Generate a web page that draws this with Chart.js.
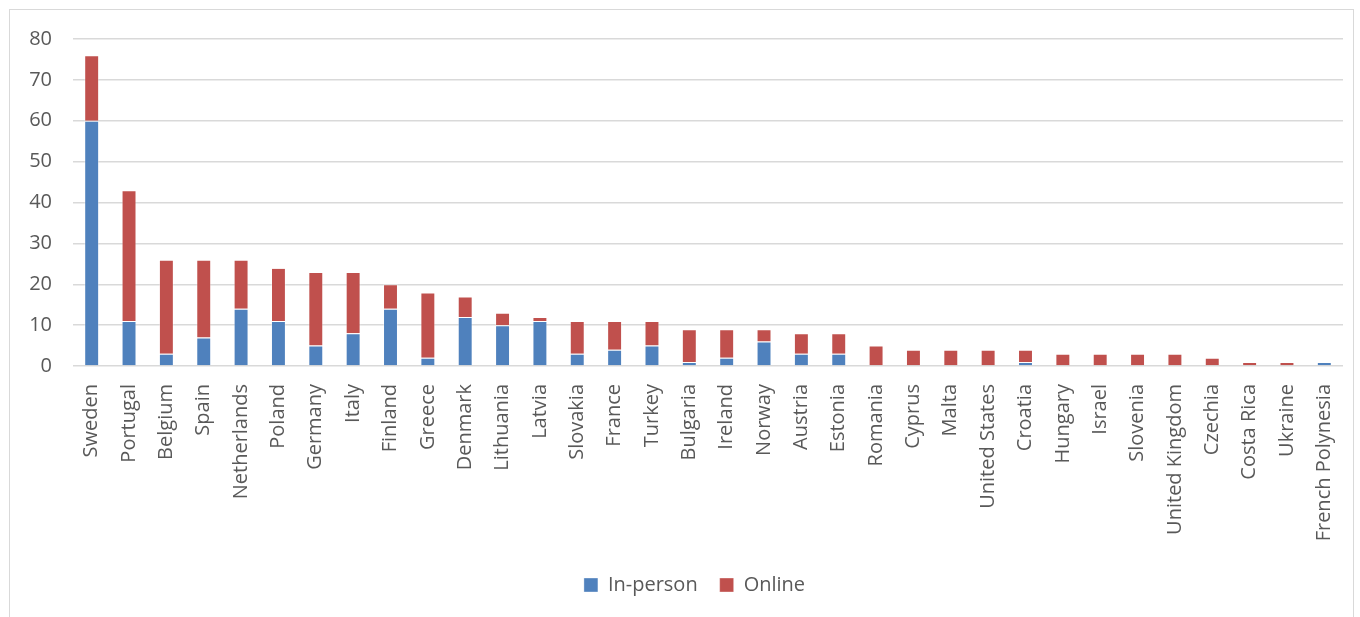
<!DOCTYPE html>
<html>
<head>
<meta charset="utf-8">
<script src="https://cdn.jsdelivr.net/npm/chart.js@4/dist/chart.umd.min.js"></script>
<style>
  body { margin: 0; background: #fff; }
  #frame { position: absolute; left: 9px; top: 9px; width: 1343px; height: 640px; border: 1px solid #d9d9d9; }
  #chart { position: absolute; left: 0; top: 0; }
</style>
</head>
<body>
<div id="frame"></div>
<canvas id="chart" width="1360" height="617"></canvas>
<script>
const countries = ['Sweden', 'Portugal', 'Belgium', 'Spain', 'Netherlands', 'Poland', 'Germany', 'Italy',
  'Finland', 'Greece', 'Denmark', 'Lithuania', 'Latvia', 'Slovakia', 'France', 'Turkey', 'Bulgaria',
  'Ireland', 'Norway', 'Austria', 'Estonia', 'Romania', 'Cyprus', 'Malta', 'United States', 'Croatia',
  'Hungary', 'Israel', 'Slovenia', 'United Kingdom', 'Czechia', 'Costa Rica', 'Ukraine', 'French Polynesia'];
const inPerson = [60, 11, 3, 7, 14, 11, 5, 8, 14, 2, 12, 10, 11, 3, 4, 5, 1, 2, 6, 3, 3, 0, 0, 0, 0, 1, 0, 0, 0, 0, 0, 0, 0, 1];
const online = [16, 32, 23, 19, 12, 13, 18, 15, 6, 16, 5, 3, 1, 8, 7, 6, 8, 7, 3, 5, 5, 5, 4, 4, 4, 3, 3, 3, 3, 3, 2, 1, 1, 0];
const yTicks = [0, 10, 20, 30, 40, 50, 60, 70, 80];

const textColor = '#595959';
const fontFamily = '"Open Sans", "Noto Sans", sans-serif';

// the legend in the original sits a bit right of the canvas centre
const legendShift = {
  id: 'legendShift',
  afterLayout(chart) { chart.legend.left = 46; }
};

const ctx = document.getElementById('chart').getContext('2d');
new Chart(ctx, {
  type: 'bar',
  data: {
    labels: countries,
    datasets: [
      { label: 'In-person', data: inPerson, backgroundColor: '#4f81bd', borderColor: 'rgba(255,255,255,0.35)', borderWidth: 1, barPercentage: 0.4, categoryPercentage: 1 },
      { label: 'Online', data: online, backgroundColor: '#c0504d', borderColor: 'rgba(255,255,255,0.35)', borderWidth: 1, barPercentage: 0.4, categoryPercentage: 1 }
    ]
  },
  plugins: [legendShift],
  options: {
    responsive: false,
    animation: false,
    layout: { padding: { top: 39, right: 17, left: 0, bottom: 12 } },
    plugins: {
      tooltip: { enabled: false },
      legend: {
        position: 'bottom',
        labels: {
          color: textColor,
          font: { family: fontFamily, size: 20 },
          boxWidth: 14,
          boxHeight: 14,
          padding: 22
        }
      }
    },
    scales: {
      x: {
        stacked: true,
        grid: { display: false },
        border: { display: false },
        ticks: {
          color: textColor,
          font: { family: fontFamily, size: 20 },
          minRotation: 90,
          maxRotation: 90,
          autoSkip: false,
          padding: 10
        },
        afterFit: (scale) => { scale.height = 187; }
      },
      y: {
        stacked: true,
        min: 0,
        max: 80,
        afterBuildTicks: (scale) => { scale.ticks = yTicks.map(v => ({ value: v })); },
        grid: { color: '#d9d9d9', lineWidth: 1.5, drawTicks: false },
        border: { display: false },
        ticks: {
          color: textColor,
          font: { family: fontFamily, size: 20 },
          padding: 21
        },
        afterFit: (scale) => { scale.width = 73; }
      }
    }
  }
});
</script>
</body>
</html>
